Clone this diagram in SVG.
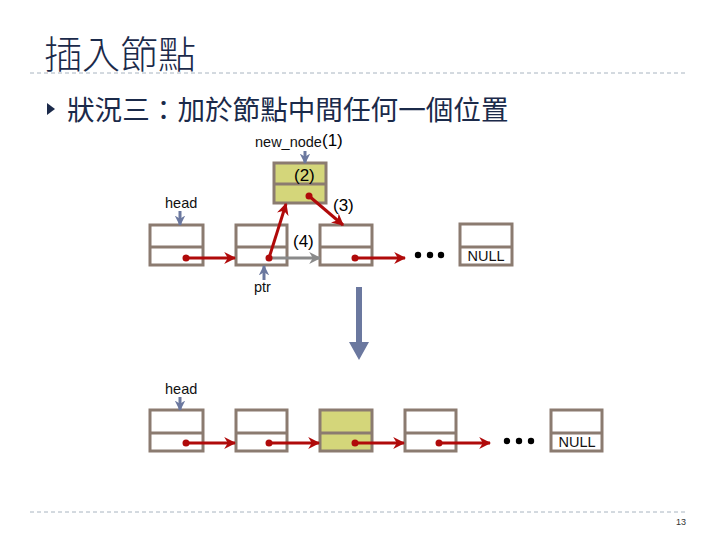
<svg xmlns="http://www.w3.org/2000/svg" width="720" height="540" viewBox="0 0 720 540">
<defs>
<marker id="ar" viewBox="0 0 10 10" refX="9" refY="5" markerWidth="4" markerHeight="4" orient="auto" markerUnits="strokeWidth"><path d="M0,0 L10,5 L0,10 L3,5 z" fill="#b00a0a"/></marker>
<marker id="ag" viewBox="0 0 10 10" refX="9" refY="5" markerWidth="4" markerHeight="4" orient="auto" markerUnits="strokeWidth"><path d="M0,0 L10,5 L0,10 L3,5 z" fill="#8a8a8a"/></marker>
<marker id="ab" viewBox="0 0 10 10" refX="9" refY="5" markerWidth="3.5" markerHeight="3.5" orient="auto" markerUnits="strokeWidth"><path d="M0,0 L10,5 L0,10 L3,5 z" fill="#6b789f"/></marker>
<style>
.box{fill:#fff;stroke:#8b7b70;stroke-width:3}
.red{stroke:#b00a0a;stroke-width:3;fill:none;marker-end:url(#ar)}
.gry{stroke:#8a8a8a;stroke-width:3;fill:none;marker-end:url(#ag)}
.blu{stroke:#6b789f;stroke-width:3;fill:none;marker-end:url(#ab)}
.dot{fill:#b00a0a}
.lbl{font-family:"Liberation Sans",Arial,sans-serif;font-size:14.5px;fill:#111}
.num{font-family:"Liberation Sans",Arial,sans-serif;font-size:17px;fill:#000}
.dash{stroke:#a8b4c0;stroke-width:1;stroke-dasharray:4 3}
</style>
</defs>
<rect width="720" height="540" fill="#fff"/>
<g id="title">
<text x="44" y="68" font-family="'Noto Sans CJK TC','Noto Sans CJK SC',sans-serif" font-size="38" font-weight="300" fill="#1b2a4a">插入節點</text>
<line class="dash" x1="30" y1="73" x2="688" y2="73"/>
</g>
<g id="subtitle">
<path d="M47,103 L55,109 L47,115 z" fill="#1b2a4a"/>
<text x="67" y="120" font-family="'Noto Sans CJK TC','Noto Sans CJK SC',sans-serif" font-size="27.6" fill="#1b2a4a">狀況三：加於節點中間任何一個位置</text>
</g>
<g id="node-a"><rect class="box" x="150" y="225" width="53" height="40"/><line class="box" x1="150" y1="247" x2="203" y2="247"/></g>
<g id="node-b"><rect class="box" x="236" y="225" width="51" height="40"/><line class="box" x1="236" y1="247" x2="287" y2="247"/></g>
<g id="node-c"><rect class="box" x="320" y="225" width="52" height="40"/><line class="box" x1="320" y1="247" x2="372" y2="247"/></g>
<g id="new-node"><rect class="box" x="274" y="163" width="52" height="40" style="fill:#d4d67a"/><line class="box" x1="274" y1="184" x2="326" y2="184"/></g>
<g id="node-null-top"><rect class="box" x="460" y="224" width="52" height="41"/><line class="box" x1="460" y1="247" x2="512" y2="247"/><text class="lbl" x="486" y="261" text-anchor="middle">NULL</text></g>
<g id="dots-top" fill="#000"><circle cx="418" cy="255" r="3.2"/><circle cx="430" cy="255" r="3.2"/><circle cx="441" cy="255" r="3.2"/></g>
<g id="b1"><rect class="box" x="150" y="410" width="53" height="41"/><line class="box" x1="150" y1="433" x2="203" y2="433"/></g>
<g id="b2"><rect class="box" x="236" y="410" width="51" height="41"/><line class="box" x1="236" y1="433" x2="287" y2="433"/></g>
<g id="b3"><rect class="box" x="320" y="410" width="52" height="41" style="fill:#d4d67a"/><line class="box" x1="320" y1="433" x2="372" y2="433"/></g>
<g id="b4"><rect class="box" x="405" y="410" width="51" height="41"/><line class="box" x1="405" y1="433" x2="456" y2="433"/></g>
<g id="b-null"><rect class="box" x="551" y="410" width="51" height="41"/><line class="box" x1="551" y1="433" x2="602" y2="433"/><text class="lbl" x="577" y="447" text-anchor="middle">NULL</text></g>
<g id="dots-bottom" fill="#000"><circle cx="507" cy="441" r="3.2"/><circle cx="519" cy="441" r="3.2"/><circle cx="531" cy="441" r="3.2"/></g>
<g id="labels">
<text class="lbl" x="255" y="147">new_node</text>
<text class="num" x="322" y="146">(1)</text>
<text class="num" x="294" y="181">(2)</text>
<text class="lbl" x="165" y="208">head</text>
<text class="num" x="333" y="211">(3)</text>
<text class="num" x="293" y="247">(4)</text>
<text class="lbl" x="254" y="292">ptr</text>
<text class="lbl" x="165" y="394">head</text>
</g>
<g id="connectors">
<line class="blu" x1="305" y1="151" x2="305" y2="163"/>
<line class="blu" x1="180" y1="211" x2="180" y2="225"/>
<line class="blu" x1="264" y1="280" x2="264" y2="266"/>
<line class="blu" x1="180" y1="397" x2="180" y2="410"/>
<line class="gry" x1="269" y1="258" x2="320" y2="258"/>
<line class="red" x1="186" y1="258" x2="235" y2="258"/>
<line class="red" x1="269" y1="258" x2="286" y2="204"/>
<line class="red" x1="309" y1="196" x2="343" y2="225"/>
<line class="red" x1="355" y1="258" x2="405" y2="258"/>
<circle class="dot" cx="186" cy="258" r="3.5"/>
<circle class="dot" cx="269" cy="258" r="3.5"/>
<circle class="dot" cx="309" cy="196" r="3.5"/>
<circle class="dot" cx="355" cy="258" r="3.5"/>
<line class="red" x1="186" y1="443" x2="235" y2="443"/>
<line class="red" x1="269" y1="443" x2="319" y2="443"/>
<line class="red" x1="355" y1="443" x2="404" y2="443"/>
<line class="red" x1="439" y1="443" x2="490" y2="443"/>
<circle class="dot" cx="186" cy="443" r="3.5"/>
<circle class="dot" cx="269" cy="443" r="3.5"/>
<circle class="dot" cx="355" cy="443" r="3.5"/>
<circle class="dot" cx="439" cy="443" r="3.5"/>
<path d="M356,287 L362,287 L362,342 L369,342 L359,360 L349,342 L356,342 z" fill="#6b789f"/>
</g>
<g id="footer">
<line class="dash" x1="30" y1="512" x2="688" y2="512"/>
<text x="676" y="525" font-family="'Liberation Sans',Arial,sans-serif" font-size="9" fill="#333">13</text>
</g>
</svg>
